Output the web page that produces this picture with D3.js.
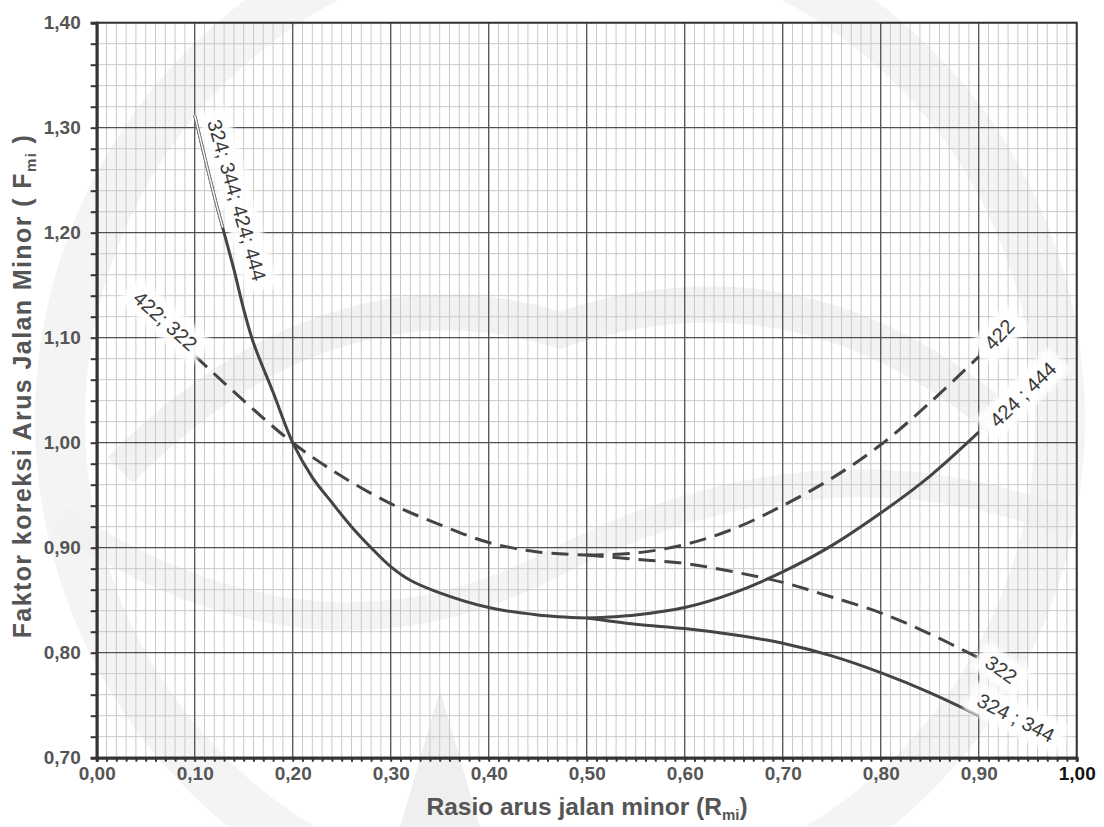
<!DOCTYPE html>
<html><head><meta charset="utf-8">
<script src="https://cdn.jsdelivr.net/npm/d3@7"></script>
<style>html,body{margin:0;padding:0;background:#fff;}svg{display:block;font-family:"Liberation Sans",Arial,sans-serif;}</style>
</head><body>
<svg id="chart" width="1104" height="827"></svg>
<script>
// ---- data ----
const xTickValues = [0,0.1,0.2,0.3,0.4,0.5,0.6,0.7,0.8,0.9,1.0];
const xTickLabels = ["0,00","0,10","0,20","0,30","0,40","0,50","0,60","0,70","0,80","0,90","1,00"];
const yTickValues = [0.7,0.8,0.9,1.0,1.1,1.2,1.3,1.4];
const yTickLabels = ["0,70","0,80","0,90","1,00","1,10","1,20","1,30","1,40"];

// solid curve, shared part (324; 344; 424; 444)
const solidMainX = [0.10,0.12,0.14,0.15,0.16,0.18,0.20,0.22,0.24,0.26,0.28,0.30,0.32,0.35,0.40,0.45,0.50];
const solidMainY = [1.312,1.235,1.165,1.127,1.095,1.048,1.000,0.967,0.943,0.920,0.900,0.882,0.869,0.857,0.843,0.836,0.833];
// solid upper branch (424 ; 444)
const solidUpX = [0.50,0.55,0.60,0.65,0.70,0.75,0.80,0.85,0.90];
const solidUpY = [0.833,0.836,0.843,0.857,0.877,0.902,0.933,0.968,1.010];
// solid lower branch (324 ; 344)
const solidLowX = [0.50,0.55,0.60,0.65,0.70,0.75,0.80,0.85,0.90];
const solidLowY = [0.833,0.827,0.823,0.817,0.809,0.797,0.781,0.762,0.740];
// dashed curve, shared part (422; 322)
const dashMainX = [0.10,0.15,0.20,0.25,0.30,0.35,0.40,0.45,0.50];
const dashMainY = [1.083,1.040,1.000,0.968,0.942,0.922,0.905,0.896,0.893];
// dashed upper branch (422)
const dashUpX = [0.50,0.55,0.60,0.65,0.70,0.75,0.80,0.85,0.90];
const dashUpY = [0.893,0.895,0.903,0.918,0.940,0.966,0.998,1.038,1.082];
// dashed lower branch (322)
const dashLowX = [0.50,0.55,0.60,0.65,0.70,0.75,0.80,0.85,0.90];
const dashLowY = [0.893,0.889,0.885,0.877,0.867,0.853,0.838,0.818,0.795];

const curveLabels = ["324; 344; 424; 444","422; 322","422","424 ; 444","322","324 ; 344"];
const curveLabelX = [0.143,0.070,0.921,0.945,0.923,0.938];
const curveLabelY = [1.231,1.116,1.103,1.046,0.784,0.738];
const curveLabelAngle = [74,42,-47,-44,35,27];

const xTitle = "Rasio arus jalan minor (R";
const xTitleSub = "mi";
const yTitle = "Faktor koreksi Arus Jalan Minor ( F";
const yTitleSub = "mi";

// ---- drawing ----
const svg = d3.select("#chart");
const L = 96.7, R = 1076.7, T = 22.7, B = 757.7;
const x = d3.scaleLinear().domain([0,1]).range([L,R]);
const y = d3.scaleLinear().domain([0.7,1.4]).range([B,T]);
const ink = "#444";

const defs = svg.append("defs");
const blur = defs.append("filter").attr("id","glow").attr("x","-20%").attr("y","-40%").attr("width","140%").attr("height","180%");
blur.append("feGaussianBlur").attr("stdDeviation",2.2);
defs.append("clipPath").attr("id","topclip").append("rect")
  .attr("x",0).attr("y",0).attr("width",1104).attr("height",y(1.205));

// plot background
svg.append("rect").attr("x",L).attr("y",T).attr("width",R-L).attr("height",B-T).attr("fill","#fff");

// faint watermark decoration
const wm = svg.append("g").attr("fill","none").attr("stroke","#efefef");
wm.append("circle").attr("cx",560).attr("cy",420).attr("r",500).attr("stroke-width",50).attr("opacity",0.7);
wm.append("path").attr("d","M 120 470 Q 330 260 560 330 Q 800 250 1000 420").attr("stroke-width",36).attr("opacity",0.8);
wm.append("path").attr("d","M 60 520 Q 320 690 560 560 Q 820 430 1060 520").attr("stroke-width",28).attr("opacity",0.7);
wm.append("path").attr("d","M 400 827 L 440 690 L 480 827 Z").attr("fill","#efefef").attr("stroke","none");

// grid
const g = svg.append("g");
const xMinor = d3.range(0,101).map(d=>d/100).filter(d=>Math.round(d*100)%10!==0);
const yMinor = d3.range(0,36).map(d=>0.7+d*0.02).filter(d=>Math.round(d*100)%10!==0);
g.selectAll(".xm").data(xMinor).enter().append("line")
  .attr("x1",d=>x(d)).attr("x2",d=>x(d)).attr("y1",T).attr("y2",B)
  .attr("stroke","#c9c9c9").attr("stroke-width",1);
g.selectAll(".ym").data(yMinor).enter().append("line")
  .attr("x1",L).attr("x2",R).attr("y1",d=>y(d)).attr("y2",d=>y(d))
  .attr("stroke","#c9c9c9").attr("stroke-width",1);
g.selectAll(".xM").data(xTickValues).enter().append("line")
  .attr("x1",d=>x(d)).attr("x2",d=>x(d)).attr("y1",T).attr("y2",B)
  .attr("stroke","#505050").attr("stroke-width",1.3);
g.selectAll(".yM").data(yTickValues).enter().append("line")
  .attr("x1",L).attr("x2",R).attr("y1",d=>y(d)).attr("y2",d=>y(d))
  .attr("stroke","#505050").attr("stroke-width",1.3);
svg.append("rect").attr("x",L).attr("y",T).attr("width",R-L).attr("height",B-T)
  .attr("fill","none").attr("stroke","#333").attr("stroke-width",2);

// axes
const xAxis = d3.axisBottom(x).tickValues(d3.range(0,101).map(d=>d/100)).tickSize(4).tickFormat("");
const xa = svg.append("g").attr("transform",`translate(0,${B})`).call(xAxis);
xa.select(".domain").attr("stroke","#333").attr("stroke-width",3);
xa.selectAll(".tick line").attr("stroke","#333").attr("stroke-width",2);
const xLab = d3.axisBottom(x).tickValues(xTickValues).tickSize(0).tickPadding(9).tickFormat((d,i)=>xTickLabels[i]);
const xl = svg.append("g").attr("transform",`translate(0,${B})`).call(xLab);
xl.select(".domain").remove();
xl.selectAll("text").attr("font-size",19).attr("font-weight","bold").attr("fill",(d,i)=>i===10?"#111":"#555")
  .attr("font-family","Liberation Sans, Arial, sans-serif");

const yAxis = d3.axisLeft(y).tickValues(d3.range(0,36).map(d=>0.7+d*0.02)).tickSize(6).tickFormat("");
const ya = svg.append("g").attr("transform",`translate(${L},0)`).call(yAxis);
ya.select(".domain").attr("stroke","#333").attr("stroke-width",3);
ya.selectAll(".tick line").attr("stroke","#333").attr("stroke-width",2);
const yLab = d3.axisLeft(y).tickValues(yTickValues).tickSize(0).tickPadding(16).tickFormat((d,i)=>yTickLabels[i]);
const yl = svg.append("g").attr("transform",`translate(${L},0)`).call(yLab);
yl.select(".domain").remove();
yl.selectAll("text").attr("font-size",19).attr("font-weight","bold").attr("fill","#555")
  .attr("font-family","Liberation Sans, Arial, sans-serif");

// titles
const xt = svg.append("text").attr("x",587).attr("y",815).attr("text-anchor","middle")
  .attr("font-size",24.5).attr("font-weight","bold").attr("fill","#555");
xt.append("tspan").text(xTitle);
xt.append("tspan").attr("font-size",15).attr("dy",5).text(xTitleSub);
xt.append("tspan").attr("dy",-5).text(")");
const yt = svg.append("text").attr("transform","translate(31,386) rotate(-90)").attr("text-anchor","middle")
  .attr("font-size",25).attr("font-weight","bold").attr("fill","#555").attr("letter-spacing",1.4);
yt.append("tspan").text(yTitle);
yt.append("tspan").attr("font-size",15).attr("dy",5).text(yTitleSub);
yt.append("tspan").attr("dy",-5).text(" )");

// curves
const line = d3.line().x(d=>x(d[0])).y(d=>y(d[1])).curve(d3.curveCatmullRom.alpha(0.5));
const zip = (a,b)=>a.map((v,i)=>[v,b[i]]);
const curves = svg.append("g").attr("fill","none").attr("stroke",ink).attr("stroke-width",3).attr("stroke-linecap","butt");
curves.append("path").attr("d",line(zip(solidMainX,solidMainY)));
curves.append("path").attr("d",line(zip(solidUpX,solidUpY)));
curves.append("path").attr("d",line(zip(solidLowX,solidLowY)));
curves.append("path").attr("d",line(zip(dashMainX,dashMainY))).attr("stroke-dasharray","17,9");
curves.append("path").attr("d",line(zip(dashUpX,dashUpY))).attr("stroke-dasharray","17,9");
curves.append("path").attr("d",line(zip(dashLowX,dashLowY))).attr("stroke-dasharray","17,9");

// labels with white halos
const lab = svg.append("g");
curveLabels.forEach((t,i)=>{
  const gg = lab.append("g").attr("transform",`translate(${x(curveLabelX[i])},${y(curveLabelY[i])}) rotate(${curveLabelAngle[i]})`);
  const txt = gg.append("text").attr("text-anchor","middle").attr("dy","0.35em")
    .attr("font-size",20).attr("fill","#3a3a3a").text(t);
  const w = txt.node().getComputedTextLength();
  gg.insert("rect","text").attr("x",-w/2-10).attr("y",-16).attr("width",w+20).attr("height",32)
    .attr("fill","#fff").attr("opacity",0.92).attr("filter","url(#glow)");
});
// thin outlined upper segment of the solid curve (under the label halo)
const seg = zip(solidMainX.slice(0,5),solidMainY.slice(0,5));
svg.append("path").attr("d",line(seg)).attr("fill","none").attr("stroke","#777").attr("stroke-width",3).attr("clip-path","url(#topclip)");
svg.append("path").attr("d",line(seg)).attr("fill","none").attr("stroke","#fff").attr("stroke-width",1.3).attr("clip-path","url(#topclip)");
</script>
</body></html>
